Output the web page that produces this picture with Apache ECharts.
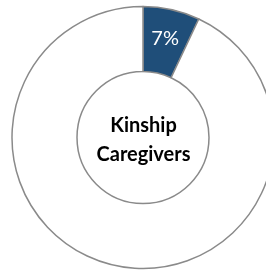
<!DOCTYPE html>
<html>
<head>
<meta charset="utf-8">
<script src="https://cdn.jsdelivr.net/npm/echarts@6/dist/echarts.min.js"></script>
<style>html,body{margin:0;padding:0;background:#fff}#c{width:266px;height:271px}</style>
</head>
<body>
<div id="c"></div>
<script>
const categories = ["Kinship Caregivers", "Other"];
const values = [7, 93];
const centerLines = ["Kinship", "Caregivers"];

const chart = echarts.init(document.getElementById('c'), null, {renderer: 'canvas'});
chart.setOption({
  animation: false,
  backgroundColor: '#ffffff',
  graphic: [{
    type: 'text',
    x: 143.5,
    y: 140,
    z: 100,
    style: {
      text: centerLines.join('\n'),
      align: 'center',
      verticalAlign: 'middle',
      font: 'bold 20px Lato, "Open Sans", sans-serif',
      lineHeight: 29,
      fill: '#000000'
    }
  }],
  series: [{
    type: 'pie',
    center: [143, 137.5],
    radius: [66, 131],
    startAngle: 90,
    clockwise: true,
    silent: true,
    label: {
      show: true,
      position: 'inside',
      formatter: function (p) { return p.dataIndex === 0 ? p.value + '%' : ''; },
      color: '#ffffff',
      fontSize: 20,
      fontFamily: 'Lato, "Open Sans", sans-serif'
    },
    labelLine: {show: false},
    itemStyle: {borderColor: '#8a8a8a', borderWidth: 1.5},
    data: categories.map((c, i) => ({
      name: c,
      value: values[i],
      itemStyle: {color: i === 0 ? '#1f4e79' : '#ffffff'}
    }))
  }]
});
</script>
</body>
</html>
